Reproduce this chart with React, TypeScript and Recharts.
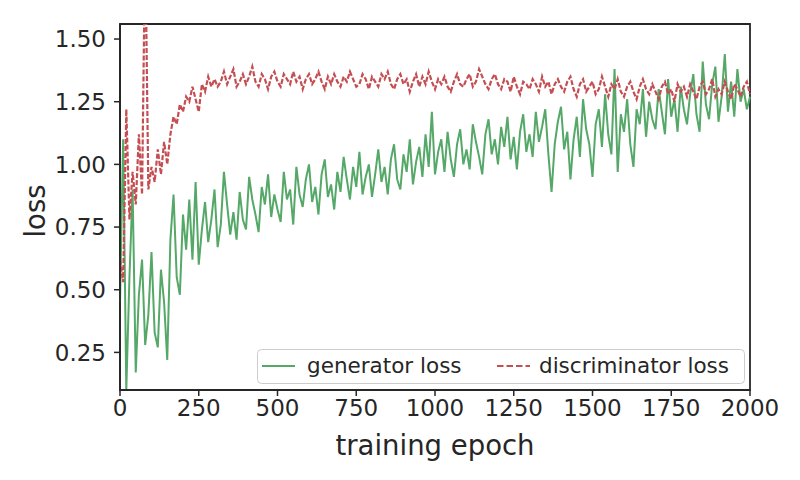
import { LineChart, Line, XAxis, YAxis, Legend, ReferenceArea } from 'recharts'

const FONT = '"DejaVu Sans", sans-serif'
const INK = '#262626'
const GREEN = '#55a868'
const RED = '#c44e52'

// one value every 10 epochs, 0..2000
const epochs = Array.from({ length: 201 }, (_, i) => i * 10)

const generatorLoss = [
  0.45, 1.10, 0.10, 0.55, 0.90, 0.17, 0.48, 0.62, 0.28, 0.40,
  0.65, 0.33, 0.27, 0.58, 0.45, 0.22, 0.70, 0.88, 0.55, 0.48,
  0.80, 0.66, 0.86, 0.62, 0.93, 0.60, 0.74, 0.85, 0.69, 0.78,
  0.90, 0.67, 0.76, 0.97, 0.84, 0.72, 0.81, 0.70, 0.89, 0.78,
  0.74, 0.95, 0.86, 0.80, 0.73, 0.91, 0.84, 0.96, 0.79, 0.88,
  0.82, 0.77, 0.97, 0.86, 0.90, 0.76, 0.99, 0.88, 0.83, 0.94,
  1.00, 0.85, 0.91, 0.80, 0.96, 1.02, 0.87, 0.92, 0.82, 0.97,
  0.89, 1.03, 0.94, 0.86, 0.99, 0.91, 1.05, 0.88, 0.95, 1.00,
  0.87, 0.96, 1.06, 0.93, 0.99, 0.88, 1.02, 1.08, 0.94, 0.90,
  1.04, 0.97, 1.10, 0.92, 1.01, 1.07, 0.95, 1.12, 0.99, 1.21,
  0.96, 1.05, 1.10, 0.97, 1.13, 1.02, 0.95, 1.08, 1.14, 1.00,
  1.06, 0.98, 1.16, 1.09, 1.03, 0.96, 1.12, 1.18, 1.04, 1.10,
  1.00, 1.15, 1.07, 1.19, 1.02, 1.11, 0.98, 1.13, 1.20, 1.05,
  1.12, 1.03, 1.21, 1.09, 1.15, 1.22, 1.04, 0.89, 1.08, 1.17,
  1.23, 1.06, 1.13, 0.94, 1.10, 1.19, 1.03, 1.26, 1.14, 1.08,
  0.95, 1.16, 1.22, 1.07, 1.28, 1.12, 1.04, 1.38, 0.97, 1.20,
  1.13, 1.26, 1.08, 0.99, 1.22, 1.16, 1.30, 1.11, 1.25, 1.18,
  1.14, 1.30, 1.21, 1.12, 1.34, 1.19, 1.26, 1.13, 1.31, 1.22,
  1.16, 1.28, 1.36, 1.20, 1.13, 1.41, 1.24, 1.18, 1.32, 1.39,
  1.17, 1.27, 1.44, 1.21, 1.33, 1.19, 1.38, 1.25, 1.30, 1.22,
  1.27,
]

const discriminatorLoss = [
  0.62, 0.53, 1.22, 0.78, 0.97, 0.84, 1.12, 0.88, 1.90, 0.90,
  0.99, 0.93, 1.06, 0.96, 1.09, 1.00, 1.12, 1.19, 1.16, 1.24,
  1.21, 1.27, 1.25, 1.31, 1.26, 1.21, 1.32, 1.29, 1.35, 1.31,
  1.34, 1.31, 1.33, 1.37, 1.32, 1.35, 1.38, 1.31, 1.33, 1.36,
  1.32, 1.35, 1.39, 1.33, 1.31, 1.36, 1.34, 1.30, 1.35, 1.37,
  1.33, 1.31, 1.36, 1.34, 1.32, 1.37, 1.33, 1.35, 1.30, 1.34,
  1.36, 1.32, 1.34, 1.37, 1.33, 1.30, 1.35, 1.32, 1.36, 1.33,
  1.31, 1.35, 1.33, 1.37, 1.34, 1.31, 1.32, 1.36, 1.34, 1.30,
  1.35, 1.33, 1.31, 1.36, 1.34, 1.37, 1.32, 1.30, 1.34, 1.36,
  1.32, 1.34, 1.29, 1.33, 1.36, 1.31, 1.35, 1.32, 1.37, 1.33,
  1.30, 1.34, 1.32, 1.35, 1.31, 1.29, 1.33, 1.36, 1.32, 1.31,
  1.34, 1.36, 1.31, 1.33, 1.38, 1.35, 1.32, 1.30, 1.34, 1.36,
  1.32, 1.30, 1.34, 1.33, 1.29, 1.35, 1.31, 1.28, 1.33, 1.32,
  1.30, 1.34, 1.32, 1.29, 1.35, 1.31, 1.33, 1.28, 1.32, 1.34,
  1.31, 1.29, 1.33, 1.35, 1.30, 1.27, 1.32, 1.34, 1.29, 1.31,
  1.33, 1.28, 1.30, 1.35, 1.31, 1.27, 1.32, 1.30, 1.34, 1.29,
  1.27, 1.31, 1.33, 1.29, 1.26, 1.31, 1.34, 1.30, 1.28, 1.32,
  1.29, 1.26, 1.31, 1.33, 1.28, 1.30, 1.25, 1.32, 1.29, 1.31,
  1.27, 1.32, 1.29, 1.26, 1.31, 1.33, 1.28, 1.30, 1.34, 1.27,
  1.30, 1.28, 1.33, 1.29, 1.26, 1.32, 1.30, 1.27, 1.31, 1.33,
  1.28,
]

const xTicks = [0, 250, 500, 750, 1000, 1250, 1500, 1750, 2000]
const yTicks = [0.25, 0.5, 0.75, 1.0, 1.25, 1.5]

const data = epochs.map((epoch, i) => ({
  epoch,
  generator: generatorLoss[i],
  discriminator: discriminatorLoss[i],
}))

function LossLegend() {
  return (
    <svg width={488} height={35} style={{ display: 'block' }}>
      <rect x={0.5} y={0.5} width={487} height={34} rx={4} fill="#fff" fillOpacity={0.8} stroke="#cccccc" />
      <line x1={5} x2={38} y1={17} y2={17} stroke={GREEN} strokeWidth={1.8} />
      <text x={50} y={24} fontFamily={FONT} fontSize={21.5} fill={INK}>generator loss</text>
      <line x1={240} x2={273} y1={17} y2={17} stroke={RED} strokeWidth={1.8} strokeDasharray="6.5 3" />
      <text x={282} y={24} fontFamily={FONT} fontSize={21.5} fill={INK}>discriminator loss</text>
    </svg>
  )
}

export default function App() {
  const tick = { fill: INK, fontSize: 23, fontFamily: FONT }
  return (
    <div style={{ width: 800, height: 480, background: '#fff' }}>
      <style>{'body { margin: 0; }'}</style>
      <LineChart width={800} height={480} data={data} margin={{ top: 24, right: 50, bottom: 0, left: 0 }}>
        <XAxis
          dataKey="epoch"
          type="number"
          domain={[0, 2000]}
          ticks={xTicks}
          interval={0}
          height={90}
          tick={tick}
          tickSize={6}
          tickMargin={4}
          axisLine={{ stroke: INK, strokeWidth: 1.8 }}
          tickLine={{ stroke: INK, strokeWidth: 1.5 }}
          label={{ value: 'training epoch', position: 'insideBottom', offset: 25, fill: INK, fontSize: 27.5, fontFamily: FONT }}
        />
        <YAxis
          type="number"
          domain={[0.1, 1.56]}
          allowDataOverflow
          ticks={yTicks}
          interval={0}
          width={120}
          tick={tick}
          tickSize={6}
          tickMargin={8}
          tickFormatter={(v: number) => v.toFixed(2)}
          axisLine={{ stroke: INK, strokeWidth: 1.8 }}
          tickLine={{ stroke: INK, strokeWidth: 1.5 }}
          label={{ value: 'loss', angle: -90, position: 'center', dx: -25, dy: 4, fill: INK, fontSize: 27.5, fontFamily: FONT }}
        />
        <Line
          dataKey="generator"
          stroke={GREEN}
          strokeWidth={2}
          dot={false}
          isAnimationActive={false}
        />
        <Line
          dataKey="discriminator"
          stroke={RED}
          strokeWidth={2.2}
          strokeDasharray="5 2"
          dot={false}
          isAnimationActive={false}
        />
        <ReferenceArea x1={0} x2={2000} y1={0.1} y2={1.56} fill="none" stroke={INK} strokeWidth={1.8} />
        <Legend
          layout="horizontal"
          verticalAlign="middle"
          align="center"
          wrapperStyle={{ left: 257, top: 349, width: 488, height: 35 }}
          content={() => <LossLegend />}
        />
      </LineChart>
    </div>
  )
}
